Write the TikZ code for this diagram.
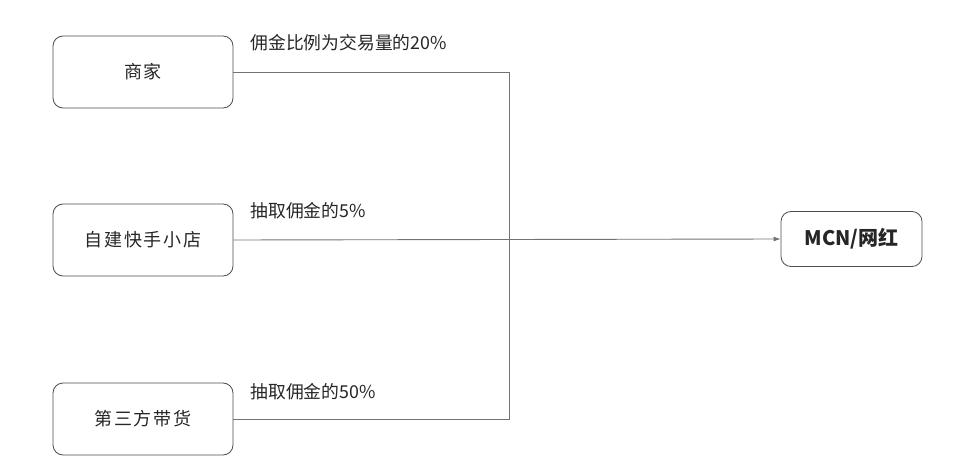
\documentclass[tikz,border=0pt]{standalone}
\usepackage{fontspec}
\setmainfont{Noto Sans CJK SC}
\newfontfamily\spacedcjk[LetterSpace=10]{Noto Sans CJK SC}
\usetikzlibrary{arrows.meta}
\begin{document}
\begin{tikzpicture}[x=1pt,y=-1pt,
  box/.style={draw=black!70, line width=0.8pt, rounded corners=10pt, minimum width=180pt, minimum height=72pt, font=\spacedcjk\fontsize{18}{21}\selectfont, text=black!85},
  lbl/.style={anchor=west, font=\fontsize{17.8}{20}\selectfont, text=black!85},
  conn/.style={draw=black!55, line width=0.9pt}]
\useasboundingbox (0,0) rectangle (974,465);
\node[box] (shang) at (143,72) {商家};
\node[box] (zj) at (143,240) {自建快手小店};
\node[box] (third) at (143,419) {第三方带货};
\node[box, minimum width=141pt, minimum height=55pt, font=\fontsize{20}{23}\selectfont\bfseries] (mcn) at (851.5,239) {MCN/网红};
\coordinate (junc) at (509,240);
\draw[conn] (shang.east) -| (junc);
\draw[conn] (third.east) -| (junc);
\draw[conn, -{Latex[length=7pt,width=5pt]}] (zj.east) -- (mcn.west);
\node[lbl] (l1) at (247,43) {佣金比例为交易量的20\%};
\node[lbl] (l2) at (247,211) {抽取佣金的5\%};
\node[lbl] (l3) at (247,392) {抽取佣金的50\%};
\end{tikzpicture}
\end{document}
